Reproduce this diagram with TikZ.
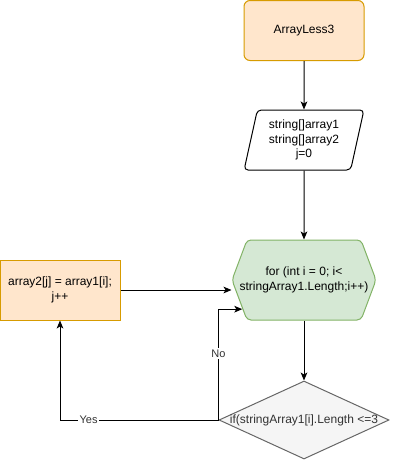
\documentclass[tikz,border=0pt]{standalone}
\usepackage{fontspec}
\setmainfont{Liberation Sans}
\usetikzlibrary{arrows.meta, positioning, shapes.geometric, calc}

\definecolor{orangefill}{HTML}{FFE6CC}
\definecolor{orangeline}{HTML}{D79B00}
\definecolor{greenfill}{HTML}{D5E8D4}
\definecolor{greenline}{HTML}{82B366}
\definecolor{greyfill}{HTML}{F5F5F5}
\definecolor{greyline}{HTML}{666666}
\definecolor{greytext}{HTML}{333333}

\begin{document}
\begin{tikzpicture}[
    x=0.75pt, y=-0.75pt,
    every node/.style={font=\fontsize{9}{10.8}\selectfont, align=center, line width=0.75pt},
    startbox/.style={draw=orangeline, fill=orangefill, rounded corners=4.5pt, minimum width=90pt, minimum height=45pt},
    iobox/.style={trapezium, trapezium left angle=76, trapezium right angle=104, trapezium stretches=true, draw, fill=white, rounded corners=3pt, minimum width=90pt, minimum height=45pt, inner sep=0pt},
    stepbox/.style={draw=orangeline, fill=orangefill, minimum width=90pt, minimum height=45pt},
    loopbox/.style={minimum width=108pt, minimum height=60pt, inner sep=0pt},
    hexline/.style={draw=greenline, fill=greenfill, line width=0.75pt, rounded corners=3pt},
    decision/.style={diamond, draw=greyline, fill=greyfill, text=greytext, minimum width=127.5pt, minimum height=58.5pt, inner sep=0pt},
    flow/.style={-{Stealth[length=6pt, width=5pt, inset=1.5pt]}, line width=0.75pt},
    lbl/.style={font=\fontsize{8.25}{9.9}\selectfont, fill=white, inner sep=1pt, text=greytext}
]
\useasboundingbox (0,0) rectangle (393,461);

\node[startbox] (start) at (304,30.5) {ArrayLess3};
\node[iobox] (input) at (304,140) {string[]array1\\string[]array2\\j=0};

\draw[hexline] (232,280) -- (247,240) -- (361,240) -- (376,280) -- (361,320) -- (247,320) -- cycle;
\node[loopbox] (loop) at (304,280) {for (int i = 0; i<\\stringArray1.Length;i++)};
\coordinate (loopin) at ($(loop.west)!0.72!([xshift=11.25pt]loop.south west)$);

\node[stepbox] (body) at (60,290) {array2[j] = array1[i];\\j++};
\node[decision] (cond) at (304,420) {\makebox[0pt]{if(stringArray1[i].Length <=3}};

\draw[flow] (start) -- (input);
\draw[flow] (input) -- (loop);
\draw[flow] (loop) -- (cond);
\draw[flow] (body.east) -- (body.east -| loop.west);
\draw[flow] (cond.west) -| node[lbl, pos=0.41] {Yes} (body.south);
\draw[flow] (cond.west) |- node[lbl, pos=0.3] {No} (loopin);
\end{tikzpicture}
\end{document}
